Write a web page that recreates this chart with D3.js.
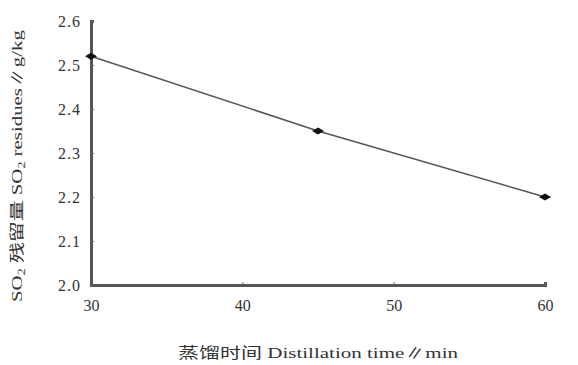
<!DOCTYPE html>
<meta charset="utf-8">
<style>
body { margin: 0; background: #fff; }
svg { display: block; }
.tick text { font-family: "Liberation Serif", "DejaVu Serif", serif; font-size: 16px; fill: #333; }
.lbl { font-family: "Liberation Serif", "Noto Sans CJK SC", serif; font-size: 15px; fill: #333; }
</style>
<body>
<script src="https://cdn.jsdelivr.net/npm/d3@7"></script>
<script>
const times = [30, 45, 60],
      residues = [2.52, 2.35, 2.20],
      xTicks = [30, 40, 50, 60],
      yTicks = [2.0, 2.1, 2.2, 2.3, 2.4, 2.5, 2.6];

const width = 578, height = 365,
      margin = {top: 21, right: 33, bottom: 80, left: 91};

const x = d3.scaleLinear().domain([30, 60]).range([margin.left, width - margin.right]),
      y = d3.scaleLinear().domain([2.0, 2.6]).range([height - margin.bottom, margin.top]);

const svg = d3.select("body").append("svg")
    .attr("width", width)
    .attr("height", height);

// axes, ticks point inward
const xAxis = svg.append("g")
    .attr("transform", "translate(0," + y(2.0) + ")")
    .call(d3.axisBottom(x).tickValues(xTicks).tickSize(-3).tickPadding(12).tickFormat(d3.format("d")));

const yAxis = svg.append("g")
    .attr("transform", "translate(" + x(30) + ",0)")
    .call(d3.axisLeft(y).tickValues(yTicks).tickSize(-3).tickPadding(10).tickFormat(d3.format(".1f")));

[xAxis, yAxis].forEach(function(a) {
  a.select(".domain").attr("stroke", "#555").attr("stroke-width", 3);
  a.selectAll(".tick line").attr("stroke", "#666").attr("stroke-width", 1);
});
xAxis.selectAll(".tick text").attr("dy", "0.9em");
yAxis.selectAll(".tick text").attr("letter-spacing", "1px");

const pts = times.map((t, i) => [t, residues[i]]);

svg.append("path")
    .datum(pts)
    .attr("fill", "none")
    .attr("stroke", "#555")
    .attr("stroke-width", 1.5)
    .attr("d", d3.line().x(d => x(d[0])).y(d => y(d[1])));

svg.selectAll(".mark")
    .data(pts)
  .enter().append("path")
    .attr("class", "mark")
    .attr("transform", d => "translate(" + x(d[0]) + "," + y(d[1]) + ")")
    .attr("d", "M-6,0L0,-3.5L6,0L0,3.5Z")
    .attr("fill", "#111");

// axis titles
svg.append("text")
    .attr("class", "lbl")
    .attr("x", 318)
    .attr("y", 358)
    .attr("text-anchor", "middle")
    .attr("textLength", 280)
    .attr("lengthAdjust", "spacingAndGlyphs")
    .text("蒸馏时间 Distillation time∥min");

const yl = svg.append("text")
    .attr("class", "lbl")
    .attr("text-anchor", "middle")
    .attr("textLength", 272)
    .attr("lengthAdjust", "spacingAndGlyphs")
    .attr("transform", "translate(22,166) rotate(-90)");
yl.append("tspan").text("SO");
yl.append("tspan").attr("font-size", 10).attr("dy", 3).text("2");
yl.append("tspan").attr("dy", -3).text(" 残留量 SO");
yl.append("tspan").attr("font-size", 10).attr("dy", 3).text("2");
yl.append("tspan").attr("dy", -3).text(" residues∥g/kg");
</script>
